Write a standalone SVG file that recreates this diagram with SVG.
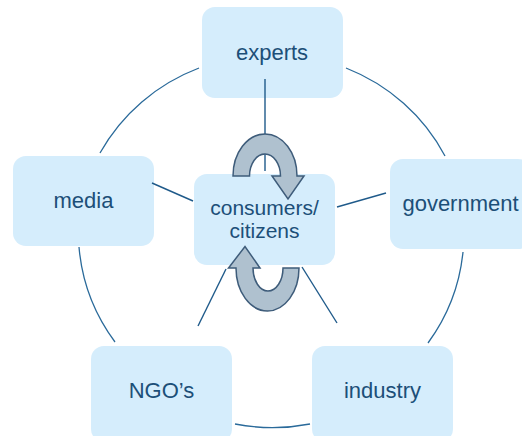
<svg xmlns="http://www.w3.org/2000/svg" width="522" height="436" viewBox="0 0 522 436">
<style>
.box{fill:#D5EDFC;}
.lbl{font-family:"Liberation Sans",Arial,sans-serif;font-size:22px;fill:#1C4F78;text-anchor:middle;}
.clbl{font-size:21px;}
.arc{fill:none;stroke:#2A6A9A;stroke-width:1.3;}
.spoke{fill:none;stroke:#1F5A8A;stroke-width:1.4;}
.cyc{fill:#AFC1CF;stroke:#3E5C7A;stroke-width:1.5;stroke-linejoin:miter;}
</style>
<rect width="522" height="436" fill="#FFFFFF"/>
<g id="experts"><rect class="box" x="202" y="7" width="141" height="91" rx="13"/><text class="lbl" x="272" y="60">experts</text></g>
<g id="media"><rect class="box" x="13" y="156" width="141" height="90" rx="13"/><text class="lbl" x="83.5" y="208">media</text></g>
<g id="government"><rect class="box" x="390" y="159" width="141" height="90" rx="13"/><text class="lbl" x="460.5" y="211">government</text></g>
<g id="ngos"><rect class="box" x="91" y="346" width="141" height="96" rx="13"/><text class="lbl" x="161.5" y="398">NGO’s</text></g>
<g id="industry"><rect class="box" x="312" y="346" width="141" height="96" rx="13"/><text class="lbl" x="382.5" y="398">industry</text></g>
<g id="connectors">
<path class="arc" d="M346,68 A192,188 0 0 1 445,156"/>
<path class="arc" d="M463,252 A192,188 0 0 1 428,343"/>
<path class="arc" d="M310,424 A192,188 0 0 1 235,424"/>
<path class="arc" d="M115,342 A192,188 0 0 1 79,247"/>
<path class="arc" d="M100,153 A192,188 0 0 1 199,68"/>
<line class="spoke" x1="265" y1="79" x2="265" y2="171" stroke-width="2"/>
<line class="spoke" x1="152" y1="183" x2="193" y2="201"/>
<line class="spoke" x1="386" y1="193" x2="337" y2="207"/>
<line class="spoke" x1="198" y1="326" x2="226" y2="269"/>
<line class="spoke" x1="302" y1="267" x2="337" y2="323"/>
</g>
<g id="consumers"><rect class="box" x="194" y="174" width="141" height="91" rx="13"/><text class="lbl clbl" x="264.5" y="215">consumers/</text><text class="lbl clbl" x="264.5" y="238">citizens</text></g>
<g id="cycle-arrows">
<path class="cyc" d="M233,176 A32,42 0 0 1 297,176 L304,176 L288,199 L272,176 L280.5,176 A15.5,22 0 0 0 249.5,176 Z"/>
<path class="cyc" d="M299,268 A31.5,43 0 0 1 236,268 L228.5,268 L245,246.5 L260,268 L253,268 A15,23 0 0 0 283,268 Z"/>
</g>
</svg>
